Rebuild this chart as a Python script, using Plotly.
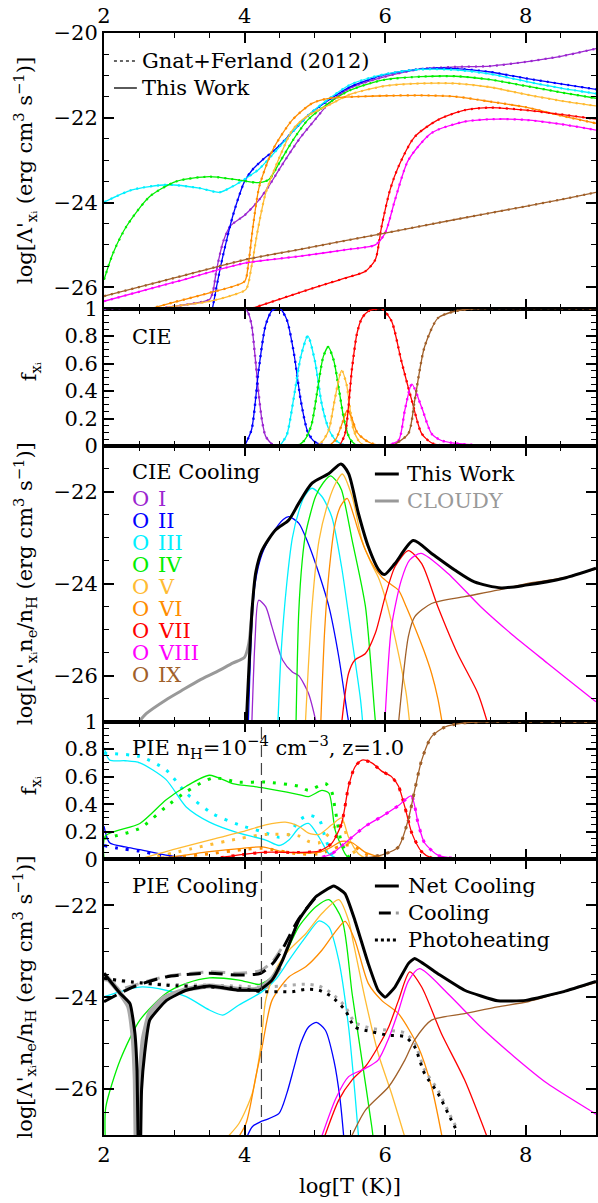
import plotly.graph_objects as go

# ======================= DATA =======================
ION_NAMES = ["I", "II", "III", "IV", "V", "VI", "VII", "VIII", "IX"]
ION_COLORS = ["#9b26d0", "#0000ff", "#00f0ff", "#00ee00", "#ffbb33",
              "#ff8c00", "#ff0000", "#ff00ff", "#a0602a"]

# ---- Panel 1: log Lambda' per ion (This Work; Gnat+Ferland overlaps) ----
P1_T_I = [2.0, 2.8, 3.2, 3.5, 3.55, 3.6, 3.7, 3.8, 4.0, 4.2, 4.35, 4.5, 4.78, 5.0, 5.2, 5.5, 6.0, 6.5, 7.0, 7.5, 8.0, 8.5, 9.0]
P1_L_I = [-26.8, -26.5, -26.4, -26.29, -26.1, -25.6, -24.9, -24.55, -24.3, -23.95, -23.6, -23.2, -22.5, -22.05, -21.66, -21.3, -21.03, -20.85, -20.8, -20.78, -20.68, -20.55, -20.37]
P1_T_II = [3.52, 3.6, 3.66, 3.75, 3.83, 3.92, 4.0, 4.1, 4.25, 4.4, 4.5, 4.7, 4.9, 5.2, 5.5, 5.8, 6.0, 6.5, 7.0, 7.5, 8.0, 8.5, 9.0]
P1_L_II = [-26.7, -26.0, -25.5, -24.85, -24.33, -23.85, -23.5, -23.25, -23.0, -22.8, -22.65, -22.3, -21.95, -21.58, -21.27, -21.08, -20.98, -20.85, -20.84, -20.92, -21.07, -21.2, -21.33]
P1_T_III = [2.0, 2.4, 2.9, 3.36, 3.64, 3.83, 4.0, 4.2, 4.5, 4.7, 4.9, 5.2, 5.5, 5.8, 6.0, 6.5, 7.0, 7.5, 8.0, 8.5, 9.0]
P1_L_III = [-23.99, -23.7, -23.58, -23.66, -23.76, -23.62, -23.45, -23.22, -22.68, -22.3, -21.95, -21.55, -21.22, -21.05, -20.97, -20.86, -20.87, -20.97, -21.14, -21.3, -21.43]
P1_T_IV = [2.0, 2.13, 2.32, 2.65, 3.03, 3.5, 3.92, 4.21, 4.35, 4.5, 4.7, 4.9, 5.2, 5.5, 5.8, 6.0, 6.5, 7.0, 7.5, 8.0, 8.5, 9.0]
P1_L_IV = [-25.82, -25.19, -24.56, -23.86, -23.5, -23.39, -23.47, -23.53, -23.45, -23.05, -22.5, -22.05, -21.65, -21.35, -21.18, -21.1, -21.03, -21.02, -21.1, -21.25, -21.4, -21.54]
P1_T_V = [2.5, 3.0, 3.5, 3.8, 4.02, 4.1, 4.18, 4.3, 4.5, 4.68, 4.9, 5.2, 5.5, 6.0, 6.5, 7.0, 7.5, 8.0, 8.5, 9.0]
P1_L_V = [-26.6, -26.45, -26.33, -26.2, -26.05, -25.5, -24.72, -23.78, -22.92, -22.29, -21.95, -21.7, -21.45, -21.25, -21.19, -21.19, -21.28, -21.45, -21.6, -21.72]
P1_T_VI = [2.45, 3.0, 3.5, 4.0, 4.05, 4.12, 4.21, 4.4, 4.68, 4.96, 5.2, 5.6, 6.0, 6.5, 7.0, 7.5, 8.0, 8.5, 9.0]
P1_L_VI = [-26.6, -26.35, -26.13, -25.86, -25.5, -24.56, -23.62, -22.76, -22.05, -21.66, -21.54, -21.5, -21.48, -21.47, -21.5, -21.62, -21.75, -21.95, -22.13]
P1_T_VII = [4.1, 4.77, 5.2, 5.5, 5.72, 5.86, 5.95, 6.07, 6.19, 6.42, 6.75, 7.13, 7.5, 8.0, 8.5, 9.0]
P1_L_VII = [-26.5, -26.13, -25.9, -25.75, -25.62, -25.35, -24.56, -23.7, -23.15, -22.45, -22.05, -21.82, -21.76, -21.82, -21.92, -22.03]
P1_T_VIII = [2.0, 3.0, 4.0, 4.77, 5.5, 5.86, 6.0, 6.14, 6.33, 6.66, 7.13, 7.6, 8.0, 8.5, 9.0]
P1_L_VIII = [-26.33, -25.88, -25.43, -25.27, -25.1, -25.0, -24.72, -23.94, -23.0, -22.36, -22.09, -22.03, -22.05, -22.15, -22.29]
P1_T_IX = [2.0, 3.0, 4.0, 4.77, 6.0, 7.0, 8.0, 8.5, 9.0]
P1_L_IX = [-26.21, -25.78, -25.35, -25.11, -24.72, -24.4, -24.09, -23.93, -23.76]

# ---- Panel 2: CIE ion fractions ----
P2_T_I = [2.0, 4.0, 4.05, 4.1, 4.15, 4.2, 4.25, 4.3, 4.4, 4.5]
P2_F_I = [1.0, 1.0, 0.97, 0.88, 0.65, 0.38, 0.18, 0.07, 0.01, 0.0]
P2_T_II = [4.0, 4.1, 4.2, 4.3, 4.4, 4.5, 4.6, 4.7, 4.8, 4.9, 5.0, 5.1, 5.2]
P2_F_II = [0.0, 0.12, 0.55, 0.88, 0.99, 1.0, 0.92, 0.68, 0.33, 0.1, 0.03, 0.01, 0.0]
P2_T_III = [4.5, 4.6, 4.7, 4.8, 4.9, 5.0, 5.1, 5.2, 5.3, 5.4, 5.5]
P2_F_III = [0.0, 0.08, 0.35, 0.65, 0.8, 0.62, 0.3, 0.12, 0.04, 0.01, 0.0]
P2_T_IV = [4.75, 4.85, 4.95, 5.05, 5.12, 5.19, 5.27, 5.34, 5.42, 5.5, 5.6]
P2_F_IV = [0.0, 0.04, 0.15, 0.45, 0.65, 0.72, 0.62, 0.42, 0.18, 0.05, 0.0]
P2_T_V = [5.0, 5.1, 5.2, 5.28, 5.38, 5.45, 5.5, 5.55, 5.62, 5.7]
P2_F_V = [0.0, 0.03, 0.12, 0.33, 0.55, 0.45, 0.27, 0.12, 0.04, 0.0]
P2_T_VI = [5.2, 5.3, 5.4, 5.46, 5.52, 5.6, 5.7, 5.8, 6.0]
P2_F_VI = [0.0, 0.05, 0.18, 0.26, 0.21, 0.1, 0.05, 0.02, 0.0]
P2_T_VII = [5.35, 5.43, 5.53, 5.6, 5.67, 5.76, 5.86, 5.95, 6.09, 6.23, 6.38, 6.52, 6.67, 6.9]
P2_F_VII = [0.0, 0.09, 0.57, 0.82, 0.93, 0.98, 0.995, 1.0, 0.91, 0.62, 0.33, 0.09, 0.02, 0.0]
P2_T_VIII = [6.0, 6.19, 6.28, 6.38, 6.52, 6.66, 6.8, 6.99, 7.5]
P2_F_VIII = [0.0, 0.04, 0.26, 0.45, 0.28, 0.09, 0.04, 0.02, 0.0]
P2_T_IX = [6.1, 6.33, 6.42, 6.56, 6.75, 6.99, 7.3, 9.0]
P2_F_IX = [0.0, 0.09, 0.33, 0.72, 0.93, 0.98, 1.0, 1.0]

# ---- Panel 3: CIE cooling ----
P3_T_TOT = [4.02, 4.11, 4.16, 4.25, 4.44, 4.63, 4.77, 4.96, 5.2, 5.37, 5.48, 5.62, 5.76, 5.91, 5.99, 6.14, 6.4, 6.66, 6.99, 7.27, 7.65, 8.0, 8.54, 9.0]
P3_L_TOT = [-27.2, -24.5, -23.75, -23.27, -22.83, -22.61, -22.25, -21.81, -21.6, -21.39, -21.6, -22.47, -23.19, -23.7, -23.8, -23.56, -23.06, -23.34, -23.7, -23.96, -24.09, -24.03, -23.88, -23.66]
P3_T_CLOUDY = [2.45, 2.6, 2.88, 3.1, 3.36, 3.6, 3.83, 4.0, 4.06, 4.11]
P3_L_CLOUDY = [-27.1, -26.83, -26.53, -26.33, -26.1, -25.92, -25.73, -25.6, -25.3, -24.5]
P3_T_I = [4.1, 4.15, 4.2, 4.3, 4.39, 4.54, 4.68, 4.77, 4.91, 5.03]
P3_L_I = [-27.2, -25.2, -24.36, -24.5, -24.94, -25.66, -25.92, -26.0, -26.39, -27.1]
P3_T_II = [4.05, 4.1, 4.15, 4.25, 4.4, 4.55, 4.63, 4.77, 4.9, 5.01, 5.2, 5.34, 5.46, 5.5]
P3_L_II = [-27.2, -25.0, -24.0, -23.35, -22.9, -22.6, -22.54, -22.68, -23.1, -23.56, -24.5, -25.59, -26.82, -27.2]
P3_T_III = [4.47, 4.52, 4.6, 4.68, 4.77, 4.85, 4.96, 5.1, 5.24, 5.38, 5.53, 5.65, 5.69]
P3_L_III = [-27.2, -25.5, -24.0, -23.0, -22.43, -22.1, -21.92, -22.1, -22.54, -23.63, -25.23, -26.53, -27.2]
P3_T_IV = [4.73, 4.77, 4.82, 4.87, 5.01, 5.12, 5.22, 5.3, 5.38, 5.53, 5.72, 5.86, 5.88]
P3_L_IV = [-27.2, -24.65, -23.5, -22.9, -22.1, -21.8, -21.65, -21.75, -21.96, -23.05, -24.5, -26.97, -27.2]
P3_T_V = [4.86, 4.96, 5.06, 5.2, 5.3, 5.39, 5.53, 5.67, 5.8, 5.9, 6.0, 6.1, 6.2, 6.3, 6.36]
P3_L_V = [-27.2, -24.5, -23.05, -22.18, -21.8, -21.61, -22.1, -23.05, -23.55, -23.85, -24.3, -24.9, -25.6, -26.4, -27.2]
P3_T_VI = [5.08, 5.14, 5.2, 5.29, 5.37, 5.46, 5.55, 5.63, 5.72, 5.85, 5.95, 6.05, 6.19, 6.3, 6.42, 6.55, 6.66, 6.75, 6.83]
P3_L_VI = [-27.2, -25.0, -23.77, -22.68, -22.3, -22.14, -22.5, -22.9, -23.27, -23.65, -23.85, -23.98, -24.14, -24.5, -24.94, -25.45, -25.95, -26.5, -27.2]
P3_T_VII = [5.37, 5.48, 5.57, 5.72, 5.86, 6.0, 6.14, 6.33, 6.52, 6.75, 7.03, 7.32, 7.49]
P3_L_VII = [-27.2, -25.95, -25.66, -25.52, -25.08, -24.28, -23.63, -23.28, -23.56, -24.5, -25.52, -26.39, -27.2]
P3_T_VIII = [5.99, 6.09, 6.23, 6.35, 6.51, 6.89, 7.36, 7.84, 8.31, 8.94, 9.0]
P3_L_VIII = [-27.2, -24.94, -23.92, -23.48, -23.34, -23.77, -24.5, -25.15, -25.73, -26.5, -26.57]
P3_T_IX = [6.18, 6.33, 6.42, 6.66, 7.13, 7.6, 8.03, 8.5, 9.0]
P3_L_IX = [-27.2, -25.15, -24.72, -24.43, -24.28, -24.14, -23.99, -23.88, -23.68]

# ---- Panel 4: PIE ion fractions (solid: this work, dotted: comparison) ----
P4_T_II = [2.0, 2.08, 2.3, 2.51, 2.88, 3.17, 3.5]
P4_F_II = [0.24, 0.12, 0.09, 0.07, 0.03, 0.01, 0.0]
P4_T_II_GF = [2.0, 2.2, 2.5, 2.9, 3.3]
P4_F_II_GF = [0.1, 0.08, 0.06, 0.02, 0.0]
P4_T_III = [2.0, 2.08, 2.3, 2.51, 2.88, 3.17, 3.5, 3.92, 4.3, 4.49, 4.63, 4.77, 4.91, 5.06, 5.2, 5.34]
P4_F_III = [0.81, 0.72, 0.715, 0.70, 0.58, 0.38, 0.27, 0.19, 0.14, 0.10, 0.14, 0.225, 0.26, 0.16, 0.04, 0.0]
P4_T_III_GF = [2.0, 2.51, 2.88, 3.17, 3.55, 3.92, 4.25, 4.49, 4.63, 4.77, 4.91, 5.06, 5.15, 5.25]
P4_F_III_GF = [0.77, 0.745, 0.65, 0.48, 0.33, 0.25, 0.2, 0.16, 0.18, 0.28, 0.32, 0.29, 0.15, 0.02]
P4_T_IV = [2.0, 2.02, 2.51, 2.88, 3.17, 3.5, 3.83, 4.25, 4.77, 4.91, 5.1, 5.2, 5.29, 5.43, 5.5]
P4_F_IV = [0.0, 0.17, 0.26, 0.43, 0.53, 0.61, 0.55, 0.52, 0.47, 0.455, 0.5, 0.48, 0.21, 0.04, 0.0]
P4_T_IV_GF = [2.0, 2.51, 2.88, 3.17, 3.55, 3.92, 4.3, 4.77, 4.91, 5.15, 5.24, 5.29, 5.38, 5.5]
P4_F_IV_GF = [0.15, 0.225, 0.38, 0.49, 0.59, 0.56, 0.56, 0.53, 0.5, 0.55, 0.49, 0.36, 0.12, 0.0]
P4_T_V = [2.5, 2.98, 3.5, 3.97, 4.3, 4.58, 4.77, 4.91, 5.06, 5.24, 5.38, 5.48, 5.62, 5.75]
P4_F_V = [0.0, 0.07, 0.14, 0.2, 0.25, 0.27, 0.24, 0.19, 0.18, 0.25, 0.3, 0.16, 0.04, 0.0]
P4_T_V_GF = [2.6, 3.36, 3.92, 4.3, 4.77, 4.91, 5.06, 5.24, 5.38, 5.48, 5.6]
P4_F_V_GF = [0.0, 0.09, 0.15, 0.18, 0.17, 0.13, 0.12, 0.21, 0.28, 0.12, 0.02]
P4_T_VI = [2.5, 3.0, 3.5, 3.97, 4.25, 4.54, 4.77, 5.06, 5.24, 5.38, 5.53, 5.72, 5.9, 6.1]
P4_F_VI = [0.0, 0.02, 0.055, 0.08, 0.09, 0.055, 0.045, 0.05, 0.09, 0.13, 0.12, 0.05, 0.02, 0.0]
P4_T_VI_GF = [2.5, 3.0, 3.5, 3.97, 4.25, 4.77, 5.06, 5.24, 5.38, 5.53, 5.72, 6.0]
P4_F_VI_GF = [0.0, 0.015, 0.04, 0.07, 0.08, 0.04, 0.04, 0.07, 0.1, 0.1, 0.04, 0.0]
P4_T_VII = [3.5, 4.25, 4.77, 5.06, 5.24, 5.38, 5.48, 5.57, 5.67, 5.81, 5.95, 6.09, 6.19, 6.28, 6.38, 6.52, 6.66, 7.0]
P4_F_VII = [0.0, 0.05, 0.05, 0.06, 0.116, 0.26, 0.53, 0.67, 0.72, 0.70, 0.64, 0.6, 0.53, 0.38, 0.19, 0.055, 0.01, 0.0]
P4_T_VIII = [4.8, 5.06, 5.24, 5.48, 5.72, 5.95, 6.19, 6.37, 6.47, 6.56, 6.75, 7.0, 7.5]
P4_F_VIII = [0.0, 0.01, 0.04, 0.14, 0.24, 0.31, 0.39, 0.46, 0.26, 0.12, 0.03, 0.005, 0.0]
P4_T_IX = [5.4, 5.72, 6.0, 6.19, 6.33, 6.42, 6.52, 6.66, 6.85, 7.13, 7.5, 9.0]
P4_F_IX = [0.0, 0.01, 0.04, 0.09, 0.29, 0.5, 0.72, 0.89, 0.96, 0.99, 1.0, 1.0]

# ---- Panel 5: PIE cooling ----
P5_T_NET = [2.0, 2.23, 2.37, 2.44, 2.47, 2.495, None, 2.515, 2.535, 2.58, 2.65, 2.89, 3.17, 3.5, 3.92, 4.11, 4.21, 4.39, 4.54, 4.77, 5.01, 5.27, 5.43, 5.57, 5.76, 5.9, 6.0, 6.14, 6.33, 6.42, 6.75, 7.13, 7.6, 8.0, 8.54, 9.0]
P5_L_NET = [-23.48, -23.92, -24.14, -24.79, -25.6, -28.0, None, -28.0, -26.0, -25.2, -24.5, -24.07, -23.85, -23.76, -23.85, -23.85, -23.85, -23.63, -23.2, -22.33, -21.82, -21.58, -21.75, -22.33, -23.27, -23.85, -24.0, -23.78, -23.27, -23.16, -23.49, -23.85, -24.08, -24.07, -23.88, -23.66]
P5_T_NET_CL = [2.0, 2.2, 2.35, 2.41, 2.445, 2.465, None, 2.49, 2.51, 2.56, 2.65, 2.85, 3.17, 3.5, 3.92, 4.21, 4.39, 4.5]
P5_L_NET_CL = [-23.5, -23.85, -24.2, -24.8, -25.8, -28.0, None, -28.0, -25.8, -24.9, -24.35, -24.02, -23.83, -23.76, -23.83, -23.82, -23.6, -23.35]
P5_T_COOL = [2.0, 2.41, 2.88, 3.5, 3.92, 4.23, 4.4, 4.54, 4.77, 5.0]
P5_L_COOL = [-24.1, -23.78, -23.56, -23.48, -23.52, -23.48, -23.27, -22.95, -22.3, -21.85]
P5_T_COOL_CL = [2.3, 2.88, 3.5, 3.92, 4.23, 4.4, 4.54]
P5_L_COOL_CL = [-23.8, -23.55, -23.45, -23.48, -23.42, -23.22, -22.9]
P5_T_HEAT = [2.0, 2.41, 2.88, 3.5, 3.92, 4.25, 4.49, 4.68, 4.87, 5.06, 5.24, 5.43, 5.57, 5.81, 6.04, 6.28, 6.42, 6.56, 6.75, 6.94, 7.0]
P5_L_HEAT = [-23.59, -23.67, -23.74, -23.78, -23.81, -23.88, -23.88, -23.88, -23.83, -23.85, -23.99, -24.28, -24.65, -24.75, -24.83, -24.86, -25.08, -25.66, -26.09, -26.67, -26.85]
P5_T_HEAT_CL = [2.0, 2.41, 2.88, 3.5, 3.92, 4.25, 4.49, 4.87, 5.06, 5.24, 5.43, 5.57, 5.81, 6.04, 6.28, 6.42, 6.56, 6.75, 6.94, 7.0]
P5_L_HEAT_CL = [-23.62, -23.68, -23.72, -23.74, -23.76, -23.78, -23.76, -23.72, -23.76, -23.92, -24.2, -24.55, -24.68, -24.72, -24.78, -25.0, -25.58, -26.02, -26.62, -26.8]
P5_T_II = [3.99, 4.11, 4.23, 4.3, 4.49, 4.6, 4.7, 4.8, 4.91, 5.02, 5.15, 5.27, 5.36, 5.42]
P5_L_II = [-27.2, -26.82, -26.71, -26.67, -26.53, -26.1, -25.55, -25.0, -24.65, -24.55, -24.72, -25.37, -26.24, -27.2]
P5_T_III = [2.0, 2.51, 2.88, 3.17, 3.5, 3.69, 3.92, 4.25, 4.45, 4.63, 4.87, 5.06, 5.2, 5.34, 5.48, 5.57, 5.63]
P5_L_III = [-23.99, -23.78, -23.85, -23.99, -24.28, -24.39, -24.17, -23.88, -23.6, -23.2, -22.69, -22.34, -22.47, -23.2, -24.65, -26.09, -27.2]
P5_T_IV = [2.02, 2.025, 2.23, 2.51, 2.88, 3.17, 3.5, 3.92, 4.21, 4.39, 4.54, 4.77, 5.01, 5.2, 5.39, 5.53, 5.67, 5.81, 5.84]
P5_L_IV = [-27.2, -26.4, -25.37, -24.5, -23.92, -23.7, -23.58, -23.63, -23.72, -23.56, -23.2, -22.47, -22.04, -21.88, -22.33, -23.92, -25.37, -26.82, -27.2]
P5_T_V = [3.66, 3.92, 4.11, 4.23, 4.3, 4.44, 4.63, 4.87, 5.1, 5.34, 5.48, 5.55, 5.72, 5.9, 6.09, 6.31]
P5_L_V = [-27.2, -26.75, -26.09, -25.08, -24.07, -23.41, -22.98, -22.62, -22.18, -21.88, -22.33, -22.83, -24.07, -25.22, -26.09, -27.2]
P5_T_VI = [3.85, 4.02, 4.16, 4.25, 4.39, 4.63, 4.87, 5.1, 5.29, 5.43, 5.57, 5.76, 5.95, 6.19, 6.47, 6.66, 6.83]
P5_L_VI = [-27.2, -26.75, -25.73, -25.08, -24.07, -23.56, -23.34, -22.98, -22.58, -22.35, -22.76, -23.7, -24.07, -24.36, -25.08, -25.95, -27.2]
P5_T_VII = [5.1, 5.34, 5.53, 5.72, 5.9, 6.05, 6.19, 6.35, 6.52, 6.8, 7.13, 7.49]
P5_L_VII = [-27.2, -26.24, -25.8, -25.51, -25.08, -24.65, -24.07, -23.45, -23.78, -24.79, -25.8, -27.2]
P5_T_VIII = [5.06, 5.3, 5.48, 5.72, 5.9, 6.05, 6.19, 6.33, 6.49, 6.89, 7.36, 7.84, 8.31, 8.94, 9.0]
P5_L_VIII = [-27.2, -26.2, -25.73, -25.55, -25.37, -24.9, -24.3, -23.65, -23.38, -23.92, -24.65, -25.3, -25.88, -26.49, -26.55]
P5_T_IX = [5.47, 5.72, 6.05, 6.28, 6.42, 6.66, 7.13, 7.6, 8.03, 8.5, 9.0]
P5_L_IX = [-27.2, -26.46, -25.95, -25.37, -24.93, -24.5, -24.36, -24.21, -24.1, -23.9, -23.68]

T_ION = 4.24          # dashed marker in PIE panels
X_RANGE = [2, 9]

# ======================= FIGURE =======================
W, H = 598, 1203
ML, MR, MT, MB = 104, 0, 33, 68
PLOT_H = H - MT - MB
PLOT_W = W - ML - MR
# panel edges in pixels (top, bottom)
PANELS = [(33, 308.5), (308.5, 446), (446, 721.5), (721.5, 859.3), (859.3, 1135)]


def yp(px):
    return (H - MB - px) / PLOT_H


def xp(px):
    return (px - ML) / PLOT_W


FONT = "DejaVu Serif, Liberation Serif, Times New Roman, serif"
fig = go.Figure()


def add(panel, xs, ys, color, width=1.3, dash=None, smooth=0.7):
    sfx = "" if panel == 1 else str(panel)
    fig.add_trace(go.Scatter(
        x=xs, y=ys, mode="lines", xaxis="x" + sfx, yaxis="y" + sfx,
        line=dict(color=color, width=width, dash=dash, shape="spline", smoothing=smooth),
        showlegend=False, hoverinfo="skip", connectgaps=False))


GF_DOT = "2px,5px"

p1 = [(P1_T_I, P1_L_I), (P1_T_II, P1_L_II), (P1_T_III, P1_L_III), (P1_T_IV, P1_L_IV),
      (P1_T_V, P1_L_V), (P1_T_VI, P1_L_VI), (P1_T_VII, P1_L_VII), (P1_T_VIII, P1_L_VIII),
      (P1_T_IX, P1_L_IX)]
for (t, l), c in zip(p1, ION_COLORS):
    add(1, t, l, c, 1.3)
    add(1, t, l, c, 2.2, GF_DOT)

p2 = [(P2_T_I, P2_F_I), (P2_T_II, P2_F_II), (P2_T_III, P2_F_III), (P2_T_IV, P2_F_IV),
      (P2_T_V, P2_F_V), (P2_T_VI, P2_F_VI), (P2_T_VII, P2_F_VII), (P2_T_VIII, P2_F_VIII),
      (P2_T_IX, P2_F_IX)]
for (t, f), c in zip(p2, ION_COLORS):
    add(2, t, f, c, 1.3)
    add(2, t, f, c, 2.4, GF_DOT)

p3 = [(P3_T_I, P3_L_I), (P3_T_II, P3_L_II), (P3_T_III, P3_L_III), (P3_T_IV, P3_L_IV),
      (P3_T_V, P3_L_V), (P3_T_VI, P3_L_VI), (P3_T_VII, P3_L_VII), (P3_T_VIII, P3_L_VIII),
      (P3_T_IX, P3_L_IX)]
for (t, l), c in zip(p3, ION_COLORS):
    add(3, t, l, c, 1.3)
add(3, P3_T_CLOUDY, P3_L_CLOUDY, "#999999", 3)
add(3, P3_T_TOT, P3_L_TOT, "black", 3)

p4_solid = [(P4_T_II, P4_F_II, 1), (P4_T_III, P4_F_III, 2), (P4_T_IV, P4_F_IV, 3),
            (P4_T_V, P4_F_V, 4), (P4_T_VI, P4_F_VI, 5), (P4_T_VII, P4_F_VII, 6),
            (P4_T_VIII, P4_F_VIII, 7), (P4_T_IX, P4_F_IX, 8)]
p4_dot = [(P4_T_II_GF, P4_F_II_GF, 1), (P4_T_III_GF, P4_F_III_GF, 2), (P4_T_IV_GF, P4_F_IV_GF, 3),
          (P4_T_V_GF, P4_F_V_GF, 4), (P4_T_VI_GF, P4_F_VI_GF, 5), (P4_T_VII, P4_F_VII, 6),
          (P4_T_VIII, P4_F_VIII, 7), (P4_T_IX, P4_F_IX, 8)]
for t, f, i in p4_dot:
    add(4, t, f, ION_COLORS[i], 3.0, "3px,8px")
for t, f, i in p4_solid:
    add(4, t, f, ION_COLORS[i], 1.3)

p5 = [(P5_T_II, P5_L_II, 1), (P5_T_III, P5_L_III, 2), (P5_T_IV, P5_L_IV, 3),
      (P5_T_V, P5_L_V, 4), (P5_T_VI, P5_L_VI, 5), (P5_T_VII, P5_L_VII, 6),
      (P5_T_VIII, P5_L_VIII, 7), (P5_T_IX, P5_L_IX, 8)]
for t, l, i in p5:
    add(5, t, l, ION_COLORS[i], 1.3)
add(5, P5_T_NET_CL, P5_L_NET_CL, "#aaaaaa", 5, smooth=0.4)
add(5, P5_T_HEAT_CL, P5_L_HEAT_CL, "#aaaaaa", 3, "3px,6px")
add(5, P5_T_COOL_CL, P5_L_COOL_CL, "#aaaaaa", 3, "14px,8px")
add(5, P5_T_HEAT, P5_L_HEAT, "black", 3, "3px,6px")
add(5, P5_T_COOL, P5_L_COOL, "black", 3, "14px,8px")
add(5, P5_T_NET, P5_L_NET, "black", 3, smooth=0.4)

# ---- axes ----
tickfont = dict(family=FONT, size=21, color="black")
base = dict(showline=True, linecolor="black", linewidth=2, mirror="allticks",
            ticks="inside", ticklen=10, tickwidth=1.5, tickcolor="black",
            showgrid=False, zeroline=False, tickfont=tickfont, fixedrange=True)

yranges = [[-26.5, -20], [0, 1], [-27, -21], [0, 1], [-27, -21]]
fracvals = [0, 0.2, 0.4, 0.6, 0.8, 1]
fractext = ["0", "0.2", "0.4", "0.6", "0.8", "1"]
layout = {}
for k in range(5):
    sfx = "" if k == 0 else str(k + 1)
    top, bot = PANELS[k]
    xa = dict(base, range=X_RANGE, anchor="y" + sfx, domain=[0, 1],
              tickmode="array", tickvals=[2, 4, 6, 8],
              minor=dict(ticks="inside", ticklen=5, tickwidth=1.2, tickcolor="black",
                         tickmode="linear", tick0=2, dtick=0.5, showgrid=False))
    if k == 0:
        xa.update(side="top", showticklabels=True)
    elif k == 4:
        xa.update(side="bottom", showticklabels=True)
    else:
        xa.update(showticklabels=False)
    layout["xaxis" + sfx] = xa

    ya = dict(base, range=yranges[k], anchor="x" + sfx, domain=[yp(bot), yp(top)])
    if k in (1, 3):
        ya.update(tickmode="array", tickvals=fracvals, ticktext=fractext,
                  minor=dict(ticks="inside", ticklen=5, tickwidth=1.2, tickcolor="black",
                             tickmode="linear", tick0=0, dtick=0.05, showgrid=False))
    else:
        ya.update(tickmode="array",
                  tickvals=[-20, -22, -24, -26] if k == 0 else [-22, -24, -26],
                  minor=dict(ticks="inside", ticklen=5, tickwidth=1.2, tickcolor="black",
                             tickmode="linear", tick0=-20, dtick=0.5, showgrid=False))
    layout["yaxis" + sfx] = ya

fig.update_layout(width=W, height=H, margin=dict(l=ML, r=MR, t=MT, b=MB, pad=0),
                  paper_bgcolor="white", plot_bgcolor="white", showlegend=False,
                  font=dict(family=FONT, size=21, color="black"), **layout)

# ---- text annotations ----
ann = []


def text(px_x, px_y, s, color="black", size=21, xanchor="left", angle=0):
    ann.append(dict(x=xp(px_x), y=yp(px_y), xref="paper", yref="paper", text=s,
                    showarrow=False, xanchor=xanchor, yanchor="middle", textangle=angle,
                    font=dict(family=FONT, size=size, color=color)))


LAM = "log[Λ'<sub>xᵢ</sub> (erg cm<sup>3</sup> s<sup>−1</sup>)]"
LAMN = "log[Λ'<sub>xᵢ</sub>n<sub>e</sub>/n<sub>H</sub> (erg cm<sup>3</sup> s<sup>−1</sup>)]"
FX = "f<sub>xᵢ</sub>"
text(24, (PANELS[0][0] + PANELS[0][1]) / 2, LAM, xanchor="center", angle=-90)
text(30, 372, FX, xanchor="center", angle=-90)
text(24, (PANELS[2][0] + PANELS[2][1]) / 2, LAMN, xanchor="center", angle=-90)
text(30, 786, FX, xanchor="center", angle=-90)
text(24, (PANELS[4][0] + PANELS[4][1]) / 2, LAMN, xanchor="center", angle=-90)
text(351, 1186, "log[T (K)]", xanchor="center")

text(140, 61, "Gnat+Ferland (2012)")
text(140, 88, "This Work")
text(130, 337, "CIE")
text(130, 472, "CIE Cooling")
for i, (nm, c) in enumerate(zip(ION_NAMES, ION_COLORS)):
    yy = 498.5 + i * 22.1
    text(130, yy, "O", color=c)
    text(156, yy, nm, color=c)
text(406, 474, "This Work")
text(406, 501, "CLOUDY", color="#999999")
text(130, 747, "PIE n<sub>H</sub>=10<sup>−4</sup> cm<sup>−3</sup>, z=1.0")
text(130, 886, "PIE Cooling")
text(407, 886, "Net Cooling")
text(407, 913, "Cooling")
text(407, 940, "Photoheating")
fig.update_layout(annotations=ann)

# ---- legend symbols & marker line ----
shapes = []


def seg(x0, x1, y, color, width, dash="solid"):
    shapes.append(dict(type="line", xref="paper", yref="paper", x0=xp(x0), x1=xp(x1),
                       y0=yp(y), y1=yp(y), line=dict(color=color, width=width, dash=dash)))


seg(114, 137, 61, "#333333", 1.5, "dot")
seg(114, 137, 88, "black", 1.3)
seg(376, 400, 474, "black", 3)
seg(376, 400, 501, "#999999", 3)
seg(376, 400, 886, "black", 3)
seg(380, 392, 913, "black", 3)
seg(397, 400, 913, "#999999", 3)
seg(376, 400, 940, "black", 3, "dot")
shapes.append(dict(type="line", xref="x4", yref="paper", x0=T_ION, x1=T_ION,
                   y0=yp(PANELS[4][1]), y1=yp(PANELS[3][0]),
                   line=dict(color="#444444", width=1.2, dash="12px,6px")))
fig.update_layout(shapes=shapes)

fig.write_html("out.html")
